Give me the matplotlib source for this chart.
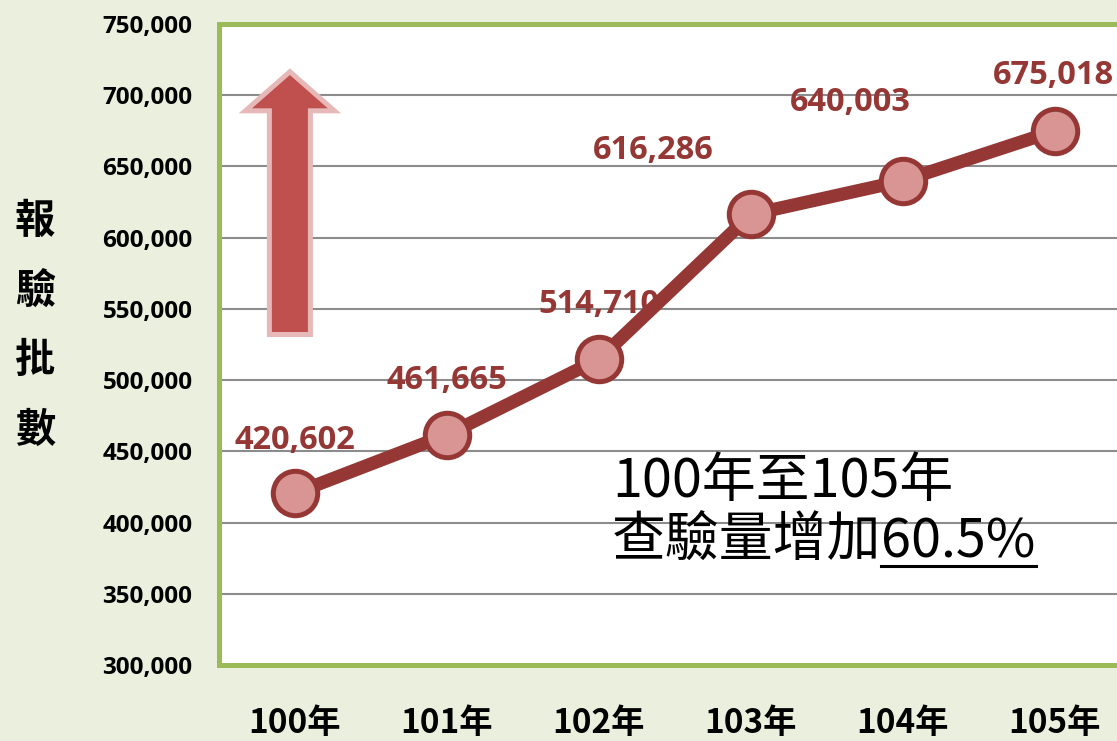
import matplotlib
matplotlib.use("Agg")
import matplotlib.pyplot as plt
from matplotlib.patches import FancyArrow
from matplotlib.lines import Line2D
from matplotlib.ticker import FuncFormatter

# 資料
years = ["100年", "101年", "102年", "103年", "104年", "105年"]
counts = [420602, 461665, 514710, 616286, 640003, 675018]
y_ticks = [300000, 350000, 400000, 450000, 500000, 550000, 600000, 650000, 700000, 750000]
y_label = "報驗批數"
note_line1 = "100年至105年"
note_line2 = "查驗量增加"
note_pct = "60.5%"

# 樣式
BG = "#EBF0DE"
GREEN = "#9BBB59"
LINE = "#953735"
MARKER = "#D99594"
ARROW_FILL = "#C0504D"
ARROW_EDGE = "#E6B9B8"
GRID = "#8C8C8C"
CJK = ["Noto Sans CJK TC", "DejaVu Sans"]
NUM = ["Open Sans", "Noto Sans CJK TC", "DejaVu Sans"]

# label offsets (points) for each data label
label_offsets = [(0, 38), (0, 39), (0, 39), (-70, 46), (-38, 56), (-1, 40)]

fig = plt.figure(figsize=(11.17, 7.41), dpi=100)
fig.set_facecolor(BG)
ax = fig.add_axes([0.196, 0.1026, 0.8165, 0.865])
ax.set_facecolor("white")

x = list(range(len(years)))
ax.plot(x, counts, color=LINE, linewidth=9.5, marker="o", markersize=32,
        markerfacecolor=MARKER, markeredgecolor=LINE, markeredgewidth=3.6,
        zorder=4, solid_capstyle="round")

for xi, v, off in zip(x, counts, label_offsets):
    ax.annotate(f"{v:,}", (xi, v), xytext=off, textcoords="offset points",
                ha="center", va="center", fontsize=23.5, fontweight="bold",
                color=LINE, family=NUM, zorder=2)

ax.set_xlim(-0.5, 5.5)
ax.set_ylim(300000, 750000)
ax.set_yticks(y_ticks)
ax.yaxis.set_major_formatter(FuncFormatter(lambda v, p: f"{int(v):,}"))
ax.set_xticks(x)
ax.set_xticklabels(years)
ax.tick_params(axis="y", length=0, pad=19, labelsize=17.5)
ax.tick_params(axis="x", length=0, pad=30, labelsize=24)
for lab in ax.get_yticklabels():
    lab.set_family(NUM)
    lab.set_fontweight("bold")
for lab in ax.get_xticklabels():
    lab.set_family(CJK)
    lab.set_fontweight("bold")

ax.grid(axis="y", color=GRID, linewidth=1.5)
ax.set_axisbelow(True)
for s in ax.spines.values():
    s.set_color(GREEN)
    s.set_linewidth(3.6)
    s.set_zorder(5)

# 上升箭頭
arrow = FancyArrow(0.0778, 0.5156, 0, 0.41, width=0.045, head_width=0.0976,
                   head_length=0.061, length_includes_head=True,
                   transform=ax.transAxes, facecolor=ARROW_FILL,
                   edgecolor=ARROW_EDGE, linewidth=3.6, joinstyle="miter",
                   zorder=2.5)
ax.add_patch(arrow)

# y 軸標題（直書）
fig.text(35 / 1117, 1 - 326 / 741, "\n".join(y_label), ha="center", va="center",
         fontsize=29, fontweight="bold", family=CJK, linespacing=1.9)

# 說明文字
fig.text(612 / 1117, 1 - 497 / 741, note_line1, ha="left", va="baseline",
         fontsize=38.8, family=CJK)
t2 = fig.text(612 / 1117, 1 - 557 / 741, note_line2, ha="left", va="baseline",
              fontsize=38.8, family=CJK)
t3 = ax.annotate(note_pct, xy=(1, 0), xycoords=t2, ha="left", va="bottom",
                 fontsize=38.8, family=CJK, annotation_clip=False)

fig.canvas.draw()
bb = t3.get_window_extent()
uy = 741 - 566
fig.add_artist(Line2D([bb.x0 / 1117, bb.x1 / 1117], [uy / 741, uy / 741],
                      transform=fig.transFigure, color="black", linewidth=2.2))

fig.savefig("out.png", dpi=100, facecolor=fig.get_facecolor())
